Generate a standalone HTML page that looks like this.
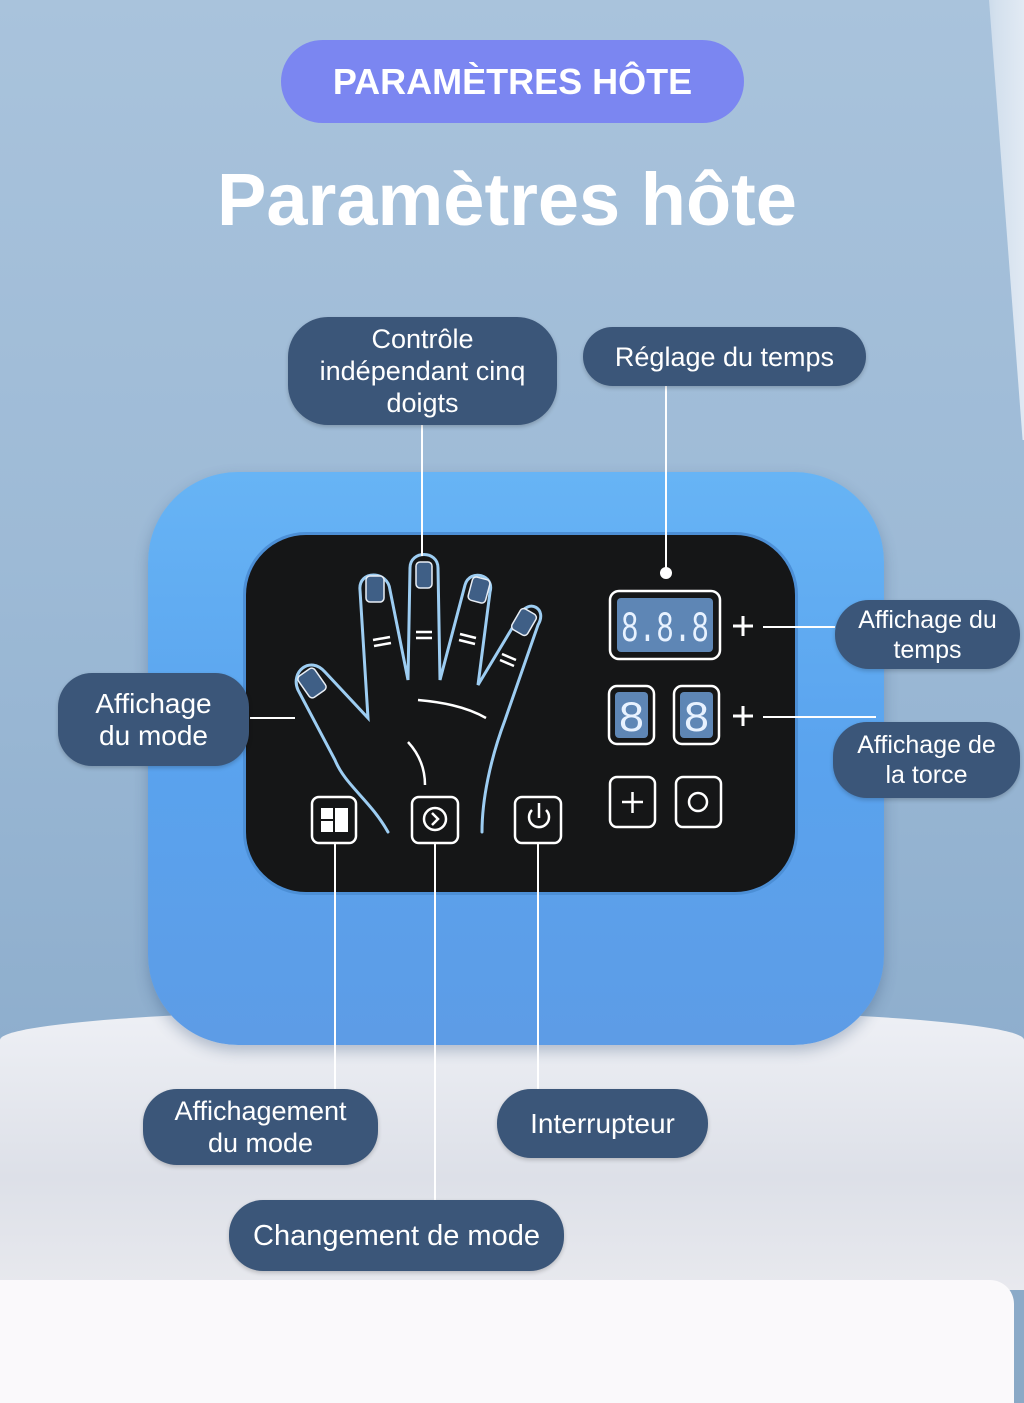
<!DOCTYPE html>
<html><head><meta charset="utf-8"><style>
body{margin:0;width:1024px;height:1403px;overflow:hidden;font-family:"Liberation Sans",sans-serif;position:relative;
background:linear-gradient(180deg,#a9c3dc 0%,#9dbad6 40%,#8eaecd 75%,#8aa9c6 100%);}
.pill{position:absolute;background:#3b5679;color:#fff;border-radius:34px;display:flex;align-items:center;justify-content:center;text-align:center;font-size:27px;line-height:32px;box-shadow:0 2px 4px rgba(0,0,0,.2)}
</style></head><body>
<div style="position:absolute;right:0;top:0;width:70px;height:440px;background:linear-gradient(90deg,rgba(230,237,245,0),rgba(230,237,245,.7) 60%,rgba(240,244,250,.8));clip-path:polygon(50% 0,100% 0,100% 100%,98% 100%)"></div>
<div style="position:absolute;left:0;top:1010px;width:1024px;height:280px;background:linear-gradient(180deg,#eef0f5,#dde0e8 60%,#e8e9ee);border-radius:40% 40% 0 0/30px 30px 0 0"></div>
<div style="position:absolute;left:0;top:1280px;width:1014px;height:123px;background:#faf9fb;border-radius:0 24px 0 0"></div>
<div style="position:absolute;left:281px;top:40px;width:463px;height:83px;border-radius:42px;background:#7b86f1;color:#fff;font-weight:bold;font-size:36px;display:flex;align-items:center;justify-content:center">PARAMÈTRES HÔTE</div>
<div style="position:absolute;left:0;top:150px;width:1014px;text-align:center;color:#fff;font-size:74px;font-weight:bold;line-height:100px">Paramètres hôte</div>
<div style="position:absolute;left:148px;top:472px;width:736px;height:573px;border-radius:90px;background:linear-gradient(180deg,#67b4f5,#5aa3ee 50%,#5d9ce6);box-shadow:0 6px 14px rgba(40,70,110,.3)"></div>
<div style="position:absolute;left:246px;top:535px;width:549px;height:357px;border-radius:60px;background:#151617;box-shadow:0 0 0 3px #4c8fd6"></div>
<svg style="position:absolute;left:0;top:0" width="1024" height="1403">
<g fill="none" stroke="#9dcdf2" stroke-width="3" stroke-linecap="round">
<path d="M388 832 C370 800 345 785 335 760 L298 690 C290 672 310 655 325 672 L368 718 L360 590 C358 570 388 570 390 590 L408 680 L410 568 C410 550 438 550 438 568 L440 680 L465 585 C470 568 495 575 490 592 L478 685 L520 615 C528 598 548 608 538 625 L505 720 C490 760 482 800 482 832"/>
</g>
<g fill="#3f5f86" stroke="#e8eef5" stroke-width="1.5">
<rect x="366" y="576" width="18" height="26" rx="4"/><rect x="416" y="562" width="16" height="26" rx="4"/><rect x="470" y="578" width="18" height="24" rx="4" transform="rotate(15 479 590)"/><rect x="515" y="610" width="18" height="24" rx="4" transform="rotate(30 524 622)"/><rect x="302" y="670" width="20" height="26" rx="4" transform="rotate(-35 312 683)"/>
</g>
<g stroke="#fff" stroke-width="2.5" fill="none">
<path d="M373 640 L390 637 M374 646 L391 643 M416 632 L432 632 M416 638 L432 638 M460 634 L476 638 M459 640 L475 644 M502 654 L516 660 M500 660 L514 666"/>
<path d="M418 700 C440 702 465 706 486 718"/><path d="M408 742 C420 755 425 770 425 785"/>
<rect x="312" y="797" width="44" height="46" rx="7"/><rect x="412" y="797" width="46" height="46" rx="7"/><rect x="515" y="797" width="46" height="46" rx="7"/>
<circle cx="435" cy="819" r="11"/><path d="M432 813 L438 819 L432 825"/>
<path d="M532 810 A10 10 0 1 0 546 810 M539 803 L539 818"/>
<rect x="610" y="591" width="110" height="68" rx="9"/><rect x="609" y="686" width="45" height="58" rx="8"/><rect x="674" y="686" width="45" height="58" rx="8"/>
<rect x="610" y="777" width="45" height="50" rx="7"/><rect x="676" y="777" width="45" height="50" rx="7"/>
<path d="M622 802 L643 802 M632.5 792 L632.5 813"/><circle cx="698" cy="802" r="9"/>
</g>
<rect x="321" y="808" width="27" height="24" fill="#fff"/><path d="M334 808 L334 832 M321 820 L334 820" stroke="#151617" stroke-width="2"/>
<rect x="617" y="598" width="96" height="54" rx="4" fill="#5e86b5"/><rect x="615" y="692" width="33" height="46" rx="4" fill="#5e86b5"/><rect x="680" y="692" width="33" height="46" rx="4" fill="#5e86b5"/>
<g font-family="Liberation Mono" font-size="44" fill="#e8f2ff"><text x="621" y="641" textLength="88" lengthAdjust="spacingAndGlyphs">8.8.8</text><text x="618" y="731" textLength="27" lengthAdjust="spacingAndGlyphs">8</text><text x="683" y="731" textLength="27" lengthAdjust="spacingAndGlyphs">8</text></g>
<g stroke="#fff" stroke-width="3"><path d="M733 626 L753 626 M743 616 L743 636 M733 716 L753 716 M743 706 L743 726"/></g>
<g stroke="#fff" stroke-width="2">
<path d="M422 425 L422 556 M666 386 L666 572 M763 627 L835 627 M763 717 L876 717 M250 718 L295 718 M335 843 L335 1089 M435 843 L435 1200 M538 843 L538 1089"/>
</g>
<circle cx="666" cy="573" r="6" fill="#fff"/>
</svg>
<div class="pill" style="left:288px;top:317px;width:269px;height:108px;border-radius:40px">Contrôle<br>indépendant cinq<br>doigts</div>
<div class="pill" style="left:583px;top:327px;width:283px;height:59px">Réglage du temps</div>
<div class="pill" style="left:835px;top:600px;width:185px;height:69px;font-size:25px;line-height:30px">Affichage du<br>temps</div>
<div class="pill" style="left:833px;top:722px;width:187px;height:76px;font-size:25px;line-height:30px">Affichage de<br>la torce</div>
<div class="pill" style="left:58px;top:673px;width:191px;height:93px;font-size:28px">Affichage<br>du mode</div>
<div class="pill" style="left:143px;top:1089px;width:235px;height:76px">Affichagement<br>du mode</div>
<div class="pill" style="left:497px;top:1089px;width:211px;height:69px;font-size:28px">Interrupteur</div>
<div class="pill" style="left:229px;top:1200px;width:335px;height:71px;font-size:29px">Changement de mode</div>
</body></html>
